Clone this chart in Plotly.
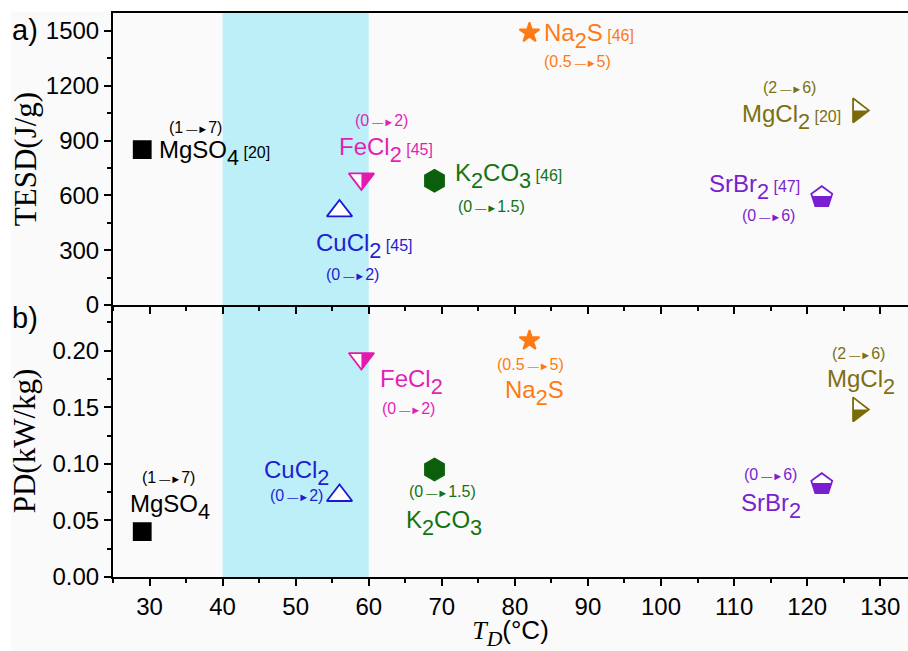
import plotly.graph_objects as go

# ---------------- data ----------------
materials = ["MgSO4", "CuCl2", "FeCl2", "K2CO3", "Na2S", "MgCl2", "SrBr2"]
name_html = ["MgSO{4}", "CuCl{2}", "FeCl{2}", "K{2}CO{3}", "Na{2}S", "MgCl{2}", "SrBr{2}"]
td = [29, 56, 59, 69, 82, 127, 122]                 # T_D (°C)
tesd = [850, 515, 690, 680, 1490, 1065, 590]        # TESD (J/g)
pdens = [0.040, 0.072, 0.193, 0.095, 0.209, 0.148, 0.082]  # PD (kW/kg)
refs = ["[20]", "[45]", "[45]", "[46]", "[46]", "[20]", "[47]"]
hyd = ["(1→7)", "(0→2)", "(0→2)", "(0→1.5)", "(0.5→5)", "(2→6)", "(0→6)"]
band = [40, 60]

# ---------------- style ----------------
colors = ["#000000", "#1a1ad4", "#e41ab0", "#0b640b", "#ff7a12", "#7a6a08", "#7a1fd0"]
txtcolors = ["#000000", "#1f1fd0", "#e31fb8", "#137313", "#ff7a12", "#7d7013", "#7a1fd0"]
symbols = ["square", "triangle-up", "triangle-down", "hexagon", "star", "triangle-right", "pentagon"]
sizes = [17, 22, 22, 22, 15, 21, 22]
fills = ["#000000", "#ffffff", "#ffffff", "#0b5e0b", "#ff7a12", "#ffffff", "#ffffff"]
SANS = "Liberation Sans"
SERIF = "Liberation Serif"
BASE = 31   # base annotation font: subscripts render at 70% of it


def chem(s, main=24):
    """Chemical formula with near full-size subscripts."""
    out = ""
    buf = ""
    i = 0
    while i < len(s):
        if s[i] == "{":
            if buf:
                out += "<span style='font-size:%dpx'>%s</span>" % (main, buf)
                buf = ""
            j = s.index("}", i)
            out += "<sub>%s</sub>" % s[i + 1:j]
            i = j + 1
        else:
            buf += s[i]
            i += 1
    if buf:
        out += "<span style='font-size:%dpx'>%s</span>" % (main, buf)
    return out


def arrowtxt(s):
    return s.replace("→", "<span style='font-size:11px'> —►</span>")


fig = go.Figure()

for k, (xa, ya, vals) in enumerate([("x", "y", tesd), ("x2", "y2", pdens)]):
    for i in range(len(materials)):
        fig.add_trace(go.Scatter(
            x=[td[i]], y=[vals[i]], mode="markers", xaxis=xa, yaxis=ya,
            showlegend=False, name=materials[i],
            marker=dict(symbol=symbols[i], size=sizes[i], color=fills[i],
                        line=dict(color=colors[i], width=1.8)),
        ))


# half-filled marker overlays (pixel geometry anchored at data points)
def half_path(sym, r):
    if sym == "triangle-down":
        rt = r * 2 / 3 ** 0.5
        pts = [(0, r / 2), (rt, r / 2), (0, -r)]
    elif sym == "triangle-right":
        rt = r * 2 / 3 ** 0.5
        pts = [(-r / 2, 0), (r, 0), (-r / 2, -rt)]
    else:  # pentagon bottom half
        pts = [(0.883 * r, 0.1 * r), (0.588 * r, -0.809 * r), (-0.588 * r, -0.809 * r), (-0.883 * r, 0.1 * r)]
    return "M" + " L".join("%.2f,%.2f" % p for p in pts) + " Z"


shapes = []
# white strips of the original image border
shapes.append(dict(type="rect", xref="paper", yref="paper", x0=-0.3, x1=(11 - 113) / 795, y0=-0.3, y1=1.2,
                   fillcolor="white", line=dict(width=0), layer="below"))
shapes.append(dict(type="rect", xref="paper", yref="paper", x0=-0.3, x1=1.2, y0=1 + 1.5 / 564, y1=1.2,
                   fillcolor="white", line=dict(width=0), layer="below"))
for xr, yr in [("x", "y domain"), ("x2", "y2 domain")]:
    shapes.append(dict(type="rect", xref=xr, yref=yr, x0=band[0], x1=band[1], y0=0, y1=1,
                       fillcolor="#bdeff8", line=dict(width=0), layer="below"))

for (xr, yr, vals) in [("x", "y", tesd), ("x2", "y2", pdens)]:
    for i, sym in enumerate(symbols):
        if sym in ("triangle-down", "triangle-right", "pentagon"):
            shapes.append(dict(type="path", xref=xr, yref=yr, xsizemode="pixel", ysizemode="pixel",
                               xanchor=td[i], yanchor=vals[i], path=half_path(sym, sizes[i] / 2),
                               fillcolor=colors[i], line=dict(width=0), layer="above"))

# label offsets (pixels) relative to markers
top_name = [("left", 15, -3), ("center", 25, -35), ("center", 25, 29), ("left", 18, 5),
            ("left", 12, -3), ("right", -15, -7), ("right", -20, 10)]
top_rng = [(53, 22), (13, -64), (20, 58), (57, -26), (48, -29), (-69, 23), (-53, -18)]
bot_name = [("center", 28, 25), ("center", -43, 23), ("center", 50, -23), ("center", 9, -54),
            ("center", 5, -53), ("center", 3, 27), ("center", -51, -22)]
bot_rng = [(26, 54), (-43, 0), (47, -50), (8, -22), (1, -24), (0, 56), (-51, 10)]

ann = []
for i in range(len(materials)):
    xa, xs, ys = top_name[i]
    ann.append(dict(x=td[i], y=tesd[i], xref="x", yref="y", showarrow=False,
                    text=chem(name_html[i]) + "<span style='font-size:16px'> %s</span>" % refs[i],
                    font=dict(family=SANS, size=BASE, color=txtcolors[i]),
                    xanchor=xa, yanchor="middle", xshift=xs, yshift=ys))
    rx, ry = top_rng[i]
    ann.append(dict(x=td[i], y=tesd[i], xref="x", yref="y", showarrow=False, text=arrowtxt(hyd[i]),
                    font=dict(family=SANS, size=16, color=txtcolors[i]),
                    xanchor="center", yanchor="middle", xshift=rx, yshift=ry))
    xa, xs, ys = bot_name[i]
    ann.append(dict(x=td[i], y=pdens[i], xref="x2", yref="y2", showarrow=False,
                    text=chem(name_html[i]),
                    font=dict(family=SANS, size=BASE, color=txtcolors[i]),
                    xanchor=xa, yanchor="middle", xshift=xs, yshift=ys))
    rx, ry = bot_rng[i]
    ann.append(dict(x=td[i], y=pdens[i], xref="x2", yref="y2", showarrow=False, text=arrowtxt(hyd[i]),
                    font=dict(family=SANS, size=16, color=txtcolors[i]),
                    xanchor="center", yanchor="middle", xshift=rx, yshift=ry))

ann.append(dict(x=(25 - 113) / 795, y=(577 - 30) / 564, xref="paper", yref="paper", text="a)",
                showarrow=False, font=dict(family=SANS, size=29, color="black"),
                xanchor="center", yanchor="middle"))
ann.append(dict(x=(25 - 113) / 795, y=(577 - 318) / 564, xref="paper", yref="paper", text="b)",
                showarrow=False, font=dict(family=SANS, size=29, color="black"),
                xanchor="center", yanchor="middle"))

axis_common = dict(showline=True, linewidth=2, linecolor="black", ticks="outside", ticklen=7,
                   tickwidth=2, tickcolor="black", showgrid=False, zeroline=False,
                   tickfont=dict(family=SANS, size=24, color="black"))
split = 272 / 564

xtitle = ("<span style='font-family:%s;font-size:26px'><i>T</i></span>"
          "<sub><span style='font-family:%s'><i>D</i></span></sub>"
          "<span style='font-size:26px'>(°C)</span>") % (SERIF, SERIF)

fig.update_layout(
    width=908, height=651,
    margin=dict(l=113, r=0, t=13, b=74),
    paper_bgcolor="#fafafa", plot_bgcolor="#fafafa",
    showlegend=False,
    shapes=shapes, annotations=ann,
    xaxis=dict(axis_common, domain=[0, 1], anchor="y", range=[25, 133.8], dtick=10, tick0=0,
               showticklabels=False, mirror=True,
               minor=dict(dtick=5, ticks="outside", ticklen=4, tickwidth=2, tickcolor="black")),
    xaxis2=dict(axis_common, domain=[0, 1], anchor="y2", range=[25, 133.8], dtick=10, tick0=0,
                matches="x", mirror=False,
                minor=dict(dtick=5, ticks="outside", ticklen=4, tickwidth=2, tickcolor="black"),
                title=dict(text=xtitle, font=dict(family=SANS, size=BASE, color="black"), standoff=3)),
    yaxis=dict(axis_common, domain=[split, 1], anchor="x", range=[0, 1598], dtick=300, tick0=0,
               mirror=False,
               minor=dict(dtick=150, ticks="outside", ticklen=4, tickwidth=2, tickcolor="black"),
               title=dict(text="TESD(J/g)", font=dict(family=SERIF, size=31, color="black"), standoff=0)),
    yaxis2=dict(axis_common, domain=[0, split], anchor="x2", range=[0, 0.2403], dtick=0.05, tick0=0,
                tickformat=".2f", mirror=False,
                minor=dict(dtick=0.025, ticks="outside", ticklen=4, tickwidth=2, tickcolor="black"),
                title=dict(text="PD(kW/kg)", font=dict(family=SERIF, size=31, color="black"), standoff=8)),
)

fig.write_html("out.html")
